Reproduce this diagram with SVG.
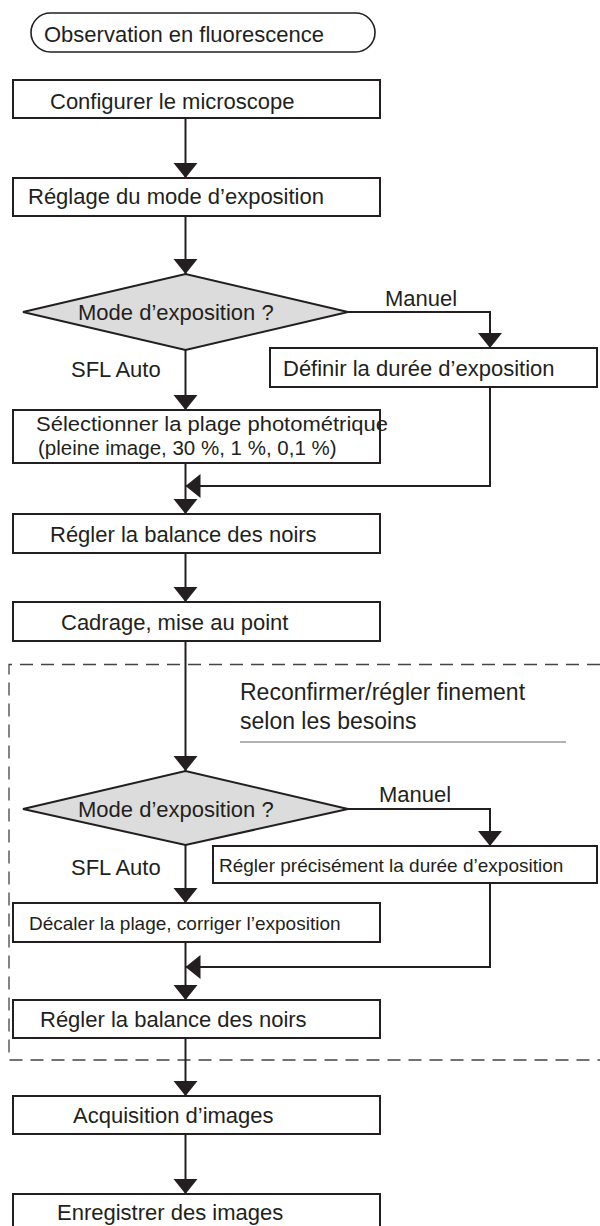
<svg xmlns="http://www.w3.org/2000/svg" width="600" height="1226" viewBox="0 0 600 1226">
<style>
text{font-family:"Liberation Sans",Arial,sans-serif;font-size:22px;fill:#231f20}
.sm{font-size:19px}
.two{font-size:20.5px}
.note{font-size:23px}
.box{fill:#fff;stroke:#231f20;stroke-width:2}
.term{fill:#fff;stroke:#231f20;stroke-width:1.6}
.dia{fill:#dcdcdc;stroke:#231f20;stroke-width:2}
.con{fill:none;stroke:#231f20;stroke-width:2;marker-end:url(#ah)}
.dash{fill:none;stroke:#444;stroke-width:1.3;stroke-dasharray:13 8}
.rule{stroke:#666;stroke-width:1}
</style>
<defs>
<marker id="ah" markerUnits="userSpaceOnUse" markerWidth="16" markerHeight="26" refX="15" refY="12" orient="auto" viewBox="0 0 16 26">
<path d="M0,0 L15,12 L0,24 Z" fill="#231f20"/>
</marker>
</defs>
<g id="region">
<path class="dash" d="M600,664.5 H9 V1060 H600"/>
<line class="rule" x1="240" y1="742" x2="566" y2="742"/>
<text class="note" x="240" y="700">Reconfirmer/régler finement</text>
<text class="note" x="240" y="729">selon les besoins</text>
</g>
<g id="connectors">
<path class="con" d="M185.5,118 V178"/>
<path class="con" d="M185.5,216 V274"/>
<path class="con" d="M348,312 H490 V348"/>
<path class="con" d="M185.5,350 V410"/>
<path class="con" d="M490,387 V486 H185.5"/>
<path class="con" d="M185.5,463 V514"/>
<path class="con" d="M185.5,553 V602"/>
<path class="con" d="M185.5,641 V771"/>
<path class="con" d="M348,809 H490 V846"/>
<path class="con" d="M185.5,845 V903"/>
<path class="con" d="M490,883 V967 H185.5"/>
<path class="con" d="M185.5,942 V1000"/>
<path class="con" d="M185.5,1038 V1096"/>
<path class="con" d="M185.5,1134 V1194"/>
<text x="385" y="306">Manuel</text>
<text x="71" y="377">SFL Auto</text>
<text x="379" y="802">Manuel</text>
<text x="71" y="875">SFL Auto</text>
</g>
<g id="start">
<rect class="term" x="31" y="13" width="344" height="39" rx="19.5" ry="19.5"/>
<text x="44" y="42">Observation en fluorescence</text>
</g>
<g id="configurer">
<rect class="box" x="13" y="80" width="367" height="38"/>
<text x="50" y="109">Configurer le microscope</text>
</g>
<g id="reglage-mode">
<rect class="box" x="13" y="178" width="367" height="38"/>
<text x="28" y="204">Réglage du mode d’exposition</text>
</g>
<g id="decision1">
<polygon class="dia" points="23,312 185.5,274 348,312 185.5,350"/>
<text x="78" y="320">Mode d’exposition ?</text>
</g>
<g id="definir-duree">
<rect class="box" x="270" y="348" width="327" height="39"/>
<text x="283" y="376">Définir la durée d’exposition</text>
</g>
<g id="plage">
<rect class="box" x="13" y="410" width="367" height="53"/>
<text class="two" x="36" y="431" textLength="352" lengthAdjust="spacingAndGlyphs">Sélectionner la plage photométrique</text>
<text class="two" x="38" y="454.5">(pleine image, 30 %, 1 %, 0,1 %)</text>
</g>
<g id="balance1">
<rect class="box" x="13" y="514" width="367" height="39"/>
<text x="50" y="542">Régler la balance des noirs</text>
</g>
<g id="cadrage">
<rect class="box" x="13" y="602" width="367" height="39"/>
<text x="61" y="630">Cadrage, mise au point</text>
</g>
<g id="decision2">
<polygon class="dia" points="23,809 185.5,771 348,809 185.5,845"/>
<text x="78" y="817">Mode d’exposition ?</text>
</g>
<g id="regler-duree">
<rect class="box" x="213" y="846" width="384" height="37"/>
<text class="sm" x="219" y="872">Régler précisément la durée d’exposition</text>
</g>
<g id="decaler">
<rect class="box" x="13" y="903" width="367" height="39"/>
<text class="sm" x="29" y="930">Décaler la plage, corriger l’exposition</text>
</g>
<g id="balance2">
<rect class="box" x="13" y="1000" width="367" height="38"/>
<text x="40" y="1027">Régler la balance des noirs</text>
</g>
<g id="acquisition">
<rect class="box" x="13" y="1096" width="367" height="38"/>
<text x="73" y="1123">Acquisition d’images</text>
</g>
<g id="enregistrer">
<rect class="box" x="13" y="1194" width="367" height="38"/>
<text x="57" y="1220">Enregistrer des images</text>
</g>
</svg>
